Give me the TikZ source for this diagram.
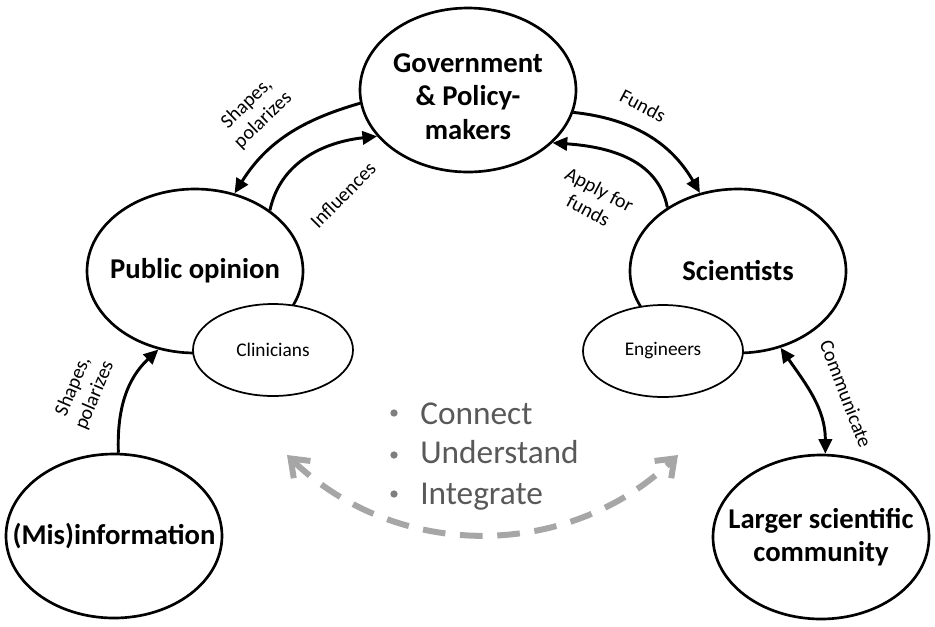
\documentclass[tikz,border=0pt]{standalone}
\usepackage{fontspec}
\setmainfont{Carlito}
\usetikzlibrary{arrows.meta,shapes.geometric}
\definecolor{dashgray}{HTML}{A6A6A6}
\definecolor{textgray}{HTML}{595959}
\definecolor{bulgray}{HTML}{7F7F7F}
\begin{document}
\begin{tikzpicture}[x=0.75pt,y=0.75pt,
  big/.style={ellipse, draw, line width=2pt, fill=white, minimum width=162pt, minimum height=123pt, inner sep=0pt},
  bigtext/.style={font=\fontsize{21.5}{25}\selectfont\bfseries, align=center, inner sep=0pt},
  small/.style={ellipse, draw, line width=1.3pt, fill=white, minimum width=120pt, minimum height=69pt, inner sep=0pt, font=\fontsize{14.5}{17}\selectfont},
  conn/.style={line width=2.2pt, -{Triangle[length=11pt,width=10pt]}},
  lbl/.style={font=\fontsize{15}{17.5}\selectfont, align=center, inner sep=0pt},
  listtext/.style={font=\fontsize{25}{29}\selectfont, text=textgray, anchor=base west, inner sep=0pt},
  bul/.style={circle, fill=bulgray, minimum size=5.5pt, inner sep=0pt},
  dashconn/.style={draw=dashgray, line width=4.5pt, dash pattern=on 17pt off 11pt,
     {Straight Barb[length=12pt,width=18pt]}-{Straight Barb[length=12pt,width=18pt]}}]
\useasboundingbox (0,0) rectangle (935,-626);

% ellipses
\node[big, label={[bigtext, yshift=-5pt]center:{Government\\\& Policy-\\makers}}] (gov) at (468,-90) {};
\node[big, label={[bigtext]center:{Public opinion}}] (pub) at (195,-271) {};
\node[big, label={[bigtext]center:{Scientists}}] (sci) at (738,-271) {};
\node[small] (cli) at (273,-350) {Clinicians};
\node[small] (eng) at (663,-351) {Engineers};
\node[big, label={[bigtext]center:{(Mis)information}}] (mis) at (114,-536) {};
\node[big, label={[bigtext]center:{Larger scientific\\community}}] (lsc) at (821,-537) {};

% connectors
\draw[conn] (gov.187) to[out=196,in=58] (pub.63);
\draw[conn] (pub.39) to[out=78,in=186] (gov.207);
\draw[conn] (gov.348) to[out=-6,in=120] (sci.116);
\draw[conn] (sci.138) to[out=101,in=-4] (gov.328);
\draw[conn] (mis.87) to[out=92,in=223] (pub.245);
\draw[conn, {Triangle[length=11pt,width=10pt]}-{Triangle[length=11pt,width=10pt]}] (sci.299) to[out=-55,in=90] (lsc.87);

% labels
\node[lbl, rotate=44] (l1) at (255,-112) {Shapes,\\polarizes};
\node[lbl, rotate=45] (l2) at (343,-195) {Influences};
\node[lbl, rotate=-28] (l3) at (643,-106) {Funds};
\node[lbl, rotate=-28] (l4) at (594,-200) {Apply for\\funds};
\node[lbl, rotate=67] (l5) at (84,-391) {Shapes,\\polarizes};
\node[lbl, rotate=-69] (l6) at (846,-394) {Communicate};

% list
\node[bul] (b1) at (394,-413) {};
\node[bul] (b2) at (394,-455) {};
\node[bul] (b3) at (394,-494) {};
\node[listtext] (t1) at (420,-424) {Connect};
\node[listtext] (t2) at (420,-463) {Understand};
\node[listtext] (t3) at (420,-504) {Integrate};

% dashed double arrow
\coordinate (dl) at (287,-455);
\coordinate (dr) at (678,-455);
\draw[dashconn] (dl) to[bend right=44] (dr);
\end{tikzpicture}
\end{document}
